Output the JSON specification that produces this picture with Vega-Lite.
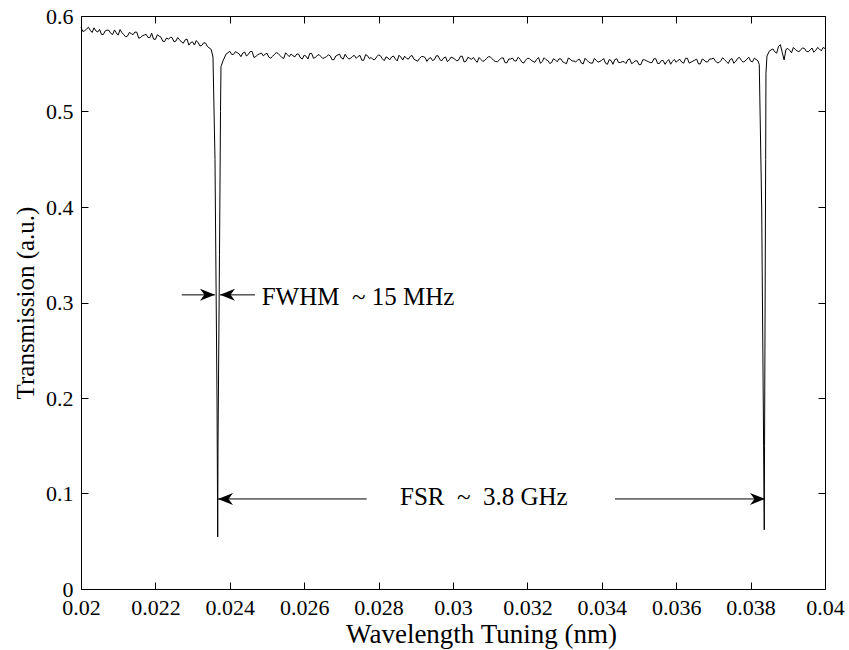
{
  "$schema": "https://vega.github.io/schema/vega-lite/v6.json",
  "width": 744,
  "height": 573,
  "autosize": {"type": "none"},
  "padding": {"left": 81, "top": 16, "right": 24, "bottom": 61},
  "background": "white",
  "config": {
    "view": {"stroke": null},
    "font": "Liberation Serif, Times New Roman, serif",
    "axis": {
      "grid": false,
      "domainColor": "black",
      "domainWidth": 1,
      "tickColor": "black",
      "tickWidth": 1,
      "tickSize": -7,
      "labelFont": "Liberation Serif, Times New Roman, serif",
      "labelFontSize": 22,
      "labelColor": "black",
      "labelFlush": false,
      "labelOverlap": false,
      "titleFont": "Liberation Serif, Times New Roman, serif",
      "titleFontSize": 25,
      "titleFontWeight": "normal",
      "titleColor": "black"
    }
  },
  "datasets": {
    "trace": [
      {"x":0.0200,"y":0.5880},{"x":0.0201,"y":0.5846},{"x":0.0202,"y":0.5882},{"x":0.0203,"y":0.5828},{"x":0.0204,"y":0.5844},
      {"x":0.0205,"y":0.5860},{"x":0.0206,"y":0.5806},{"x":0.0207,"y":0.5852},{"x":0.0208,"y":0.5818},{"x":0.0209,"y":0.5854},
      {"x":0.0210,"y":0.5800},{"x":0.0211,"y":0.5826},{"x":0.0212,"y":0.5782},{"x":0.0213,"y":0.5828},{"x":0.0214,"y":0.5804},
      {"x":0.0215,"y":0.5830},{"x":0.0216,"y":0.5775},{"x":0.0217,"y":0.5800},{"x":0.0218,"y":0.5775},{"x":0.0219,"y":0.5820},
      {"x":0.0220,"y":0.5755},{"x":0.0221,"y":0.5790},{"x":0.0222,"y":0.5735},{"x":0.0223,"y":0.5770},{"x":0.0224,"y":0.5775},
      {"x":0.0225,"y":0.5730},{"x":0.0226,"y":0.5774},{"x":0.0227,"y":0.5728},{"x":0.0228,"y":0.5751},{"x":0.0229,"y":0.5695},
      {"x":0.0230,"y":0.5729},{"x":0.0231,"y":0.5743},{"x":0.0232,"y":0.5686},{"x":0.0233,"y":0.5720},{"x":0.0234,"y":0.5680},
      {"x":0.02005,"y":0.5838},{"x":0.02015,"y":0.5864},{"x":0.02025,"y":0.5850},{"x":0.02035,"y":0.5876},{"x":0.02045,"y":0.5832},
      {"x":0.02055,"y":0.5808},{"x":0.02065,"y":0.5844},{"x":0.02075,"y":0.5850},{"x":0.02085,"y":0.5806},{"x":0.02095,"y":0.5822},
      {"x":0.02105,"y":0.5858},{"x":0.02115,"y":0.5804},{"x":0.02125,"y":0.5790},{"x":0.02135,"y":0.5816},{"x":0.02145,"y":0.5832},
      {"x":0.02155,"y":0.5768},{"x":0.02165,"y":0.5793},{"x":0.02175,"y":0.5808},{"x":0.02185,"y":0.5773},{"x":0.02195,"y":0.5758},
      {"x":0.02205,"y":0.5803},{"x":0.02215,"y":0.5778},{"x":0.02225,"y":0.5733},{"x":0.02235,"y":0.5758},{"x":0.02245,"y":0.5773},
      {"x":0.02255,"y":0.5737},{"x":0.02265,"y":0.5751},{"x":0.02275,"y":0.5715},{"x":0.02285,"y":0.5758},{"x":0.02295,"y":0.5722},
      {"x":0.02305,"y":0.5696},{"x":0.02315,"y":0.5720},{"x":0.02325,"y":0.5693},{"x":0.02335,"y":0.5715},
      {"x":0.02350,"y":0.5650},{"x":0.023548,"y":0.5570},{"x":0.023602,"y":0.4500},{"x":0.023656,"y":0.2000},{"x":0.023675,"y":0.0545},
      {"x":0.023683,"y":0.1500},{"x":0.023723,"y":0.3500},{"x":0.023750,"y":0.5000},{"x":0.023763,"y":0.5470},{"x":0.023817,"y":0.5530},
      {"x":0.023898,"y":0.5600},
      {"x":0.0240,"y":0.5630},{"x":0.0241,"y":0.5598},{"x":0.0242,"y":0.5616},{"x":0.0243,"y":0.5574},{"x":0.0244,"y":0.5622},
      {"x":0.0245,"y":0.5600},{"x":0.0246,"y":0.5628},{"x":0.0247,"y":0.5576},{"x":0.0248,"y":0.5604},{"x":0.0249,"y":0.5582},
      {"x":0.0250,"y":0.5610},{"x":0.0251,"y":0.5559},{"x":0.0252,"y":0.5598},{"x":0.0253,"y":0.5607},{"x":0.0254,"y":0.5566},
      {"x":0.0255,"y":0.5615},{"x":0.0256,"y":0.5574},{"x":0.0257,"y":0.5583},{"x":0.0258,"y":0.5602},{"x":0.0259,"y":0.5561},
      {"x":0.0260,"y":0.5590},{"x":0.0261,"y":0.5549},{"x":0.0262,"y":0.5608},{"x":0.0263,"y":0.5567},{"x":0.0264,"y":0.5596},
      {"x":0.0265,"y":0.5555},{"x":0.0266,"y":0.5574},{"x":0.0267,"y":0.5583},{"x":0.0268,"y":0.5542},{"x":0.0269,"y":0.5591},
      {"x":0.0270,"y":0.5560},{"x":0.0271,"y":0.5599},{"x":0.0272,"y":0.5549},{"x":0.0273,"y":0.5578},{"x":0.0274,"y":0.5557},
      {"x":0.0275,"y":0.5587},{"x":0.0276,"y":0.5536},{"x":0.0277,"y":0.5585},{"x":0.0278,"y":0.5565},{"x":0.0279,"y":0.5544},
      {"x":0.0280,"y":0.5593},{"x":0.0281,"y":0.5553},{"x":0.0282,"y":0.5572},{"x":0.0283,"y":0.5541},{"x":0.0284,"y":0.5581},
      {"x":0.0285,"y":0.5530},{"x":0.0286,"y":0.5569},{"x":0.0287,"y":0.5579},{"x":0.0288,"y":0.5548},{"x":0.0289,"y":0.5587},
      {"x":0.0290,"y":0.5537},{"x":0.0291,"y":0.5556},{"x":0.0292,"y":0.5575},{"x":0.0293,"y":0.5525},{"x":0.0294,"y":0.5564},
      {"x":0.0295,"y":0.5543},{"x":0.0296,"y":0.5583},{"x":0.0297,"y":0.5532},{"x":0.0298,"y":0.5571},{"x":0.0299,"y":0.5541},
      {"x":0.0300,"y":0.5560},{"x":0.0301,"y":0.5529},{"x":0.0302,"y":0.5579},{"x":0.0303,"y":0.5518},{"x":0.0304,"y":0.5567},
      {"x":0.0305,"y":0.5547},{"x":0.0306,"y":0.5536},{"x":0.0307,"y":0.5565},{"x":0.0308,"y":0.5525},{"x":0.0309,"y":0.5554},
      {"x":0.0310,"y":0.5573},{"x":0.0311,"y":0.5533},{"x":0.0312,"y":0.5522},{"x":0.0313,"y":0.5561},{"x":0.0314,"y":0.5511},
      {"x":0.0315,"y":0.5550},{"x":0.0316,"y":0.5559},{"x":0.0317,"y":0.5529},{"x":0.0318,"y":0.5548},{"x":0.0319,"y":0.5507},
      {"x":0.0320,"y":0.5557},{"x":0.0321,"y":0.5536},{"x":0.0322,"y":0.5515},{"x":0.0323,"y":0.5565},{"x":0.0324,"y":0.5524},
      {"x":0.0325,"y":0.5543},{"x":0.0326,"y":0.5503},{"x":0.0327,"y":0.5552},{"x":0.0328,"y":0.5521},{"x":0.0329,"y":0.5551},
      {"x":0.0330,"y":0.5510},{"x":0.0331,"y":0.5560},{"x":0.0332,"y":0.5529},{"x":0.0333,"y":0.5519},{"x":0.0334,"y":0.5548},
      {"x":0.0335,"y":0.5498},{"x":0.0336,"y":0.5537},{"x":0.0337,"y":0.5507},{"x":0.0338,"y":0.5556},{"x":0.0339,"y":0.5516},
      {"x":0.0340,"y":0.5535},{"x":0.0341,"y":0.5505},{"x":0.0342,"y":0.5544},{"x":0.0343,"y":0.5494},{"x":0.0344,"y":0.5553},
      {"x":0.0345,"y":0.5513},{"x":0.0346,"y":0.5522},{"x":0.0347,"y":0.5542},{"x":0.0348,"y":0.5501},{"x":0.0349,"y":0.5531},
      {"x":0.0350,"y":0.5490},{"x":0.0351,"y":0.5541},{"x":0.0352,"y":0.5531},{"x":0.0353,"y":0.5512},{"x":0.0354,"y":0.5552},
      {"x":0.0355,"y":0.5503},{"x":0.0356,"y":0.5533},{"x":0.0357,"y":0.5494},{"x":0.0358,"y":0.5544},{"x":0.0359,"y":0.5525},
      {"x":0.0360,"y":0.5515},{"x":0.0361,"y":0.5546},{"x":0.0362,"y":0.5506},{"x":0.0363,"y":0.5557},{"x":0.0364,"y":0.5517},
      {"x":0.0365,"y":0.5538},{"x":0.0366,"y":0.5498},{"x":0.0367,"y":0.5549},{"x":0.0368,"y":0.5519},{"x":0.0369,"y":0.5550},
      {"x":0.0370,"y":0.5560},{"x":0.0371,"y":0.5511},{"x":0.0372,"y":0.5532},{"x":0.0373,"y":0.5543},{"x":0.0374,"y":0.5503},
      {"x":0.0375,"y":0.5554},{"x":0.0376,"y":0.5525},{"x":0.0377,"y":0.5566},{"x":0.0378,"y":0.5517},{"x":0.0379,"y":0.5548},
      {"x":0.0380,"y":0.5528},{"x":0.0381,"y":0.5559},
      {"x":0.02405,"y":0.5598},{"x":0.02415,"y":0.5626},{"x":0.02425,"y":0.5604},{"x":0.02435,"y":0.5612},{"x":0.02445,"y":0.5580},
      {"x":0.02455,"y":0.5628},{"x":0.02465,"y":0.5566},{"x":0.02475,"y":0.5594},{"x":0.02485,"y":0.5612},{"x":0.02495,"y":0.5600},
      {"x":0.02505,"y":0.5569},{"x":0.02515,"y":0.5578},{"x":0.02525,"y":0.5617},{"x":0.02535,"y":0.5586},{"x":0.02545,"y":0.5555},
      {"x":0.02555,"y":0.5594},{"x":0.02565,"y":0.5603},{"x":0.02575,"y":0.5572},{"x":0.02585,"y":0.5601},{"x":0.02595,"y":0.5550},
      {"x":0.02605,"y":0.5579},{"x":0.02615,"y":0.5608},{"x":0.02625,"y":0.5557},{"x":0.02635,"y":0.5586},{"x":0.02645,"y":0.5575},
      {"x":0.02655,"y":0.5564},{"x":0.02665,"y":0.5593},{"x":0.02675,"y":0.5542},{"x":0.02685,"y":0.5581},{"x":0.02695,"y":0.5600},
      {"x":0.02705,"y":0.5549},{"x":0.02715,"y":0.5569},{"x":0.02725,"y":0.5558},{"x":0.02735,"y":0.5587},{"x":0.02745,"y":0.5577},
      {"x":0.02755,"y":0.5536},{"x":0.02765,"y":0.5595},{"x":0.02775,"y":0.5555},{"x":0.02785,"y":0.5544},{"x":0.02795,"y":0.5573},
      {"x":0.02805,"y":0.5583},{"x":0.02815,"y":0.5532},{"x":0.02825,"y":0.5561},{"x":0.02835,"y":0.5571},{"x":0.02845,"y":0.5550},
      {"x":0.02855,"y":0.5589},{"x":0.02865,"y":0.5539},{"x":0.02875,"y":0.5558},{"x":0.02885,"y":0.5577},{"x":0.02895,"y":0.5547},
      {"x":0.02905,"y":0.5526},{"x":0.02915,"y":0.5575},{"x":0.02925,"y":0.5565},{"x":0.02935,"y":0.5554},{"x":0.02945,"y":0.5533},
      {"x":0.02955,"y":0.5583},{"x":0.02965,"y":0.5542},{"x":0.02975,"y":0.5561},{"x":0.02985,"y":0.5521},{"x":0.02995,"y":0.5570},
      {"x":0.03005,"y":0.5549},{"x":0.03015,"y":0.5539},{"x":0.03025,"y":0.5578},{"x":0.03035,"y":0.5527},{"x":0.03045,"y":0.5557},
      {"x":0.03055,"y":0.5566},{"x":0.03065,"y":0.5515},{"x":0.03075,"y":0.5545},{"x":0.03085,"y":0.5534},{"x":0.03095,"y":0.5573},
      {"x":0.03105,"y":0.5553},{"x":0.03115,"y":0.5522},{"x":0.03125,"y":0.5541},{"x":0.03135,"y":0.5561},{"x":0.03145,"y":0.5510},
      {"x":0.03155,"y":0.5549},{"x":0.03165,"y":0.5529},{"x":0.03175,"y":0.5568},{"x":0.03185,"y":0.5517},{"x":0.03195,"y":0.5537},
      {"x":0.03205,"y":0.5556},{"x":0.03215,"y":0.5525},{"x":0.03225,"y":0.5545},{"x":0.03235,"y":0.5504},{"x":0.03245,"y":0.5563},
      {"x":0.03255,"y":0.5533},{"x":0.03265,"y":0.5512},{"x":0.03275,"y":0.5541},{"x":0.03285,"y":0.5551},{"x":0.03295,"y":0.5520},
      {"x":0.03305,"y":0.5500},{"x":0.03315,"y":0.5549},{"x":0.03325,"y":0.5529},{"x":0.03335,"y":0.5538},{"x":0.03345,"y":0.5508},
      {"x":0.03355,"y":0.5557},{"x":0.03365,"y":0.5517},{"x":0.03375,"y":0.5506},{"x":0.03385,"y":0.5536},{"x":0.03395,"y":0.5525},
      {"x":0.03405,"y":0.5555},{"x":0.03415,"y":0.5494},{"x":0.03425,"y":0.5534},{"x":0.03435,"y":0.5543},{"x":0.03445,"y":0.5513},
      {"x":0.03455,"y":0.5522},{"x":0.03465,"y":0.5502},{"x":0.03475,"y":0.5551},{"x":0.03485,"y":0.5511},{"x":0.03495,"y":0.5530},
      {"x":0.03505,"y":0.5491},{"x":0.03515,"y":0.5541},{"x":0.03525,"y":0.5522},{"x":0.03535,"y":0.5512},{"x":0.03545,"y":0.5553},
      {"x":0.03555,"y":0.5503},{"x":0.03565,"y":0.5534},{"x":0.03575,"y":0.5524},{"x":0.03585,"y":0.5495},{"x":0.03595,"y":0.5545},
      {"x":0.03605,"y":0.5536},{"x":0.03615,"y":0.5516},{"x":0.03625,"y":0.5557},{"x":0.03635,"y":0.5507},{"x":0.03645,"y":0.5528},
      {"x":0.03655,"y":0.5548},{"x":0.03665,"y":0.5499},{"x":0.03675,"y":0.5539},{"x":0.03685,"y":0.5520},{"x":0.03695,"y":0.5550},
      {"x":0.03705,"y":0.5531},{"x":0.03715,"y":0.5512},{"x":0.03725,"y":0.5563},{"x":0.03735,"y":0.5523},{"x":0.03745,"y":0.5544},
      {"x":0.03755,"y":0.5505},{"x":0.03765,"y":0.5556},{"x":0.03775,"y":0.5537},{"x":0.03785,"y":0.5528},{"x":0.03795,"y":0.5568},
      {"x":0.03805,"y":0.5519},
      {"x":0.0382,"y":0.5530},{"x":0.038233,"y":0.5490},{"x":0.038298,"y":0.4000},{"x":0.038340,"y":0.2000},{"x":0.038367,"y":0.0620},
      {"x":0.038375,"y":0.1500},{"x":0.038405,"y":0.4500},{"x":0.038413,"y":0.5400},{"x":0.038440,"y":0.5580},
      {"x":0.0385,"y":0.5630},{"x":0.0386,"y":0.5655},{"x":0.0387,"y":0.5610},{"x":0.0388,"y":0.5700},{"x":0.0389,"y":0.5540},
      {"x":0.0390,"y":0.5660},{"x":0.0391,"y":0.5615},{"x":0.0392,"y":0.5650},{"x":0.0393,"y":0.5625},{"x":0.0394,"y":0.5665},
      {"x":0.0395,"y":0.5630},{"x":0.0396,"y":0.5645},{"x":0.0397,"y":0.5620},{"x":0.0398,"y":0.5670},{"x":0.0399,"y":0.5635},
      {"x":0.0400,"y":0.5660},
      {"x":0.03855,"y":0.5645},{"x":0.03865,"y":0.5625},{"x":0.03875,"y":0.5680},{"x":0.03885,"y":0.5620},{"x":0.03895,"y":0.5650},
      {"x":0.03905,"y":0.5640},{"x":0.03915,"y":0.5670},{"x":0.03925,"y":0.5635},{"x":0.03935,"y":0.5650},{"x":0.03945,"y":0.5660},
      {"x":0.03955,"y":0.5625},{"x":0.03965,"y":0.5665},{"x":0.03975,"y":0.5640},{"x":0.03985,"y":0.5655},{"x":0.03995,"y":0.5670}
    ],
    "arrows": [
      {"x1":0.02271,"x2":0.0236,"y":0.308},
      {"x1":0.023737,"x2":0.024677,"y":0.308},
      {"x1":0.023683,"x2":0.027679,"y":0.0943},
      {"x1":0.034355,"x2":0.038387,"y":0.0943}
    ],
    "heads": [
      {"x":0.0236,"y":0.308,"dir":"right"},
      {"x":0.023737,"y":0.308,"dir":"left"},
      {"x":0.023683,"y":0.0943,"dir":"left"},
      {"x":0.038387,"y":0.0943,"dir":"right"}
    ],
    "notes": [
      {"x":0.024857,"y":0.306,"t":"FWHM\u00a0 ~ 15 MHz"},
      {"x":0.028575,"y":0.0964,"t":"FSR\u00a0 ~\u00a0 3.8 GHz"}
    ]
  },
  "layer": [
    {
      "data": {"name": "trace"},
      "mark": {"type": "line", "color": "black", "strokeWidth": 1},
      "encoding": {
        "x": {"field": "x", "type": "quantitative", "sort": "ascending",
              "scale": {"domain": [0.02, 0.04], "nice": false, "zero": false},
              "axis": {"orient": "bottom", "values": [0.02,0.022,0.024,0.026,0.028,0.03,0.032,0.034,0.036,0.038,0.04], "format": "~g", "labelPadding": 15, "title": "Wavelength Tuning (nm)", "titleFontSize": 27, "titlePadding": 3, "titleX": 400}},
        "y": {"field": "y", "type": "quantitative",
              "scale": {"domain": [0, 0.6], "nice": false, "zero": false},
              "axis": {"orient": "left", "values": [0,0.1,0.2,0.3,0.4,0.5,0.6], "format": "~g", "labelPadding": 15, "title": "Transmission (a.u.)", "titlePadding": 7}}
      }
    },
    {
      "data": {"name": "arrows"},
      "mark": {"type": "rule", "color": "black", "strokeWidth": 1},
      "encoding": {
        "x": {"field": "x1", "type": "quantitative",
              "scale": {"domain": [0.02, 0.04], "nice": false, "zero": false},
              "axis": {"orient": "top", "values": [0.02,0.022,0.024,0.026,0.028,0.03,0.032,0.034,0.036,0.038,0.04], "labels": false, "title": null}},
        "x2": {"field": "x2"},
        "y": {"field": "y", "type": "quantitative",
              "scale": {"domain": [0, 0.6], "nice": false, "zero": false},
              "axis": {"orient": "right", "values": [0,0.1,0.2,0.3,0.4,0.5,0.6], "labels": false, "title": null}}
      }
    },
    {
      "data": {"name": "heads"},
      "mark": {"type": "point", "filled": true, "size": 225, "opacity": 1, "strokeWidth": 0},
      "encoding": {
        "x": {"field": "x", "type": "quantitative", "axis": null},
        "y": {"field": "y", "type": "quantitative", "axis": null},
        "shape": {"field": "dir", "type": "nominal", "legend": null,
                  "scale": {"domain": ["right", "left"], "range": ["M0,0 L-2,-0.8 L-1.4,0 L-2,0.8 Z", "M0,0 L2,-0.8 L1.4,0 L2,0.8 Z"]}},
        "color": {"value": "black"}
      }
    },
    {
      "data": {"name": "notes"},
      "mark": {"type": "text", "align": "left", "baseline": "middle", "font": "Liberation Serif, Times New Roman, serif", "fontSize": 25, "color": "black"},
      "encoding": {
        "x": {"field": "x", "type": "quantitative", "axis": null},
        "y": {"field": "y", "type": "quantitative", "axis": null},
        "text": {"field": "t"}
      }
    }
  ],
  "resolve": {"axis": {"x": "independent", "y": "independent"}}
}
